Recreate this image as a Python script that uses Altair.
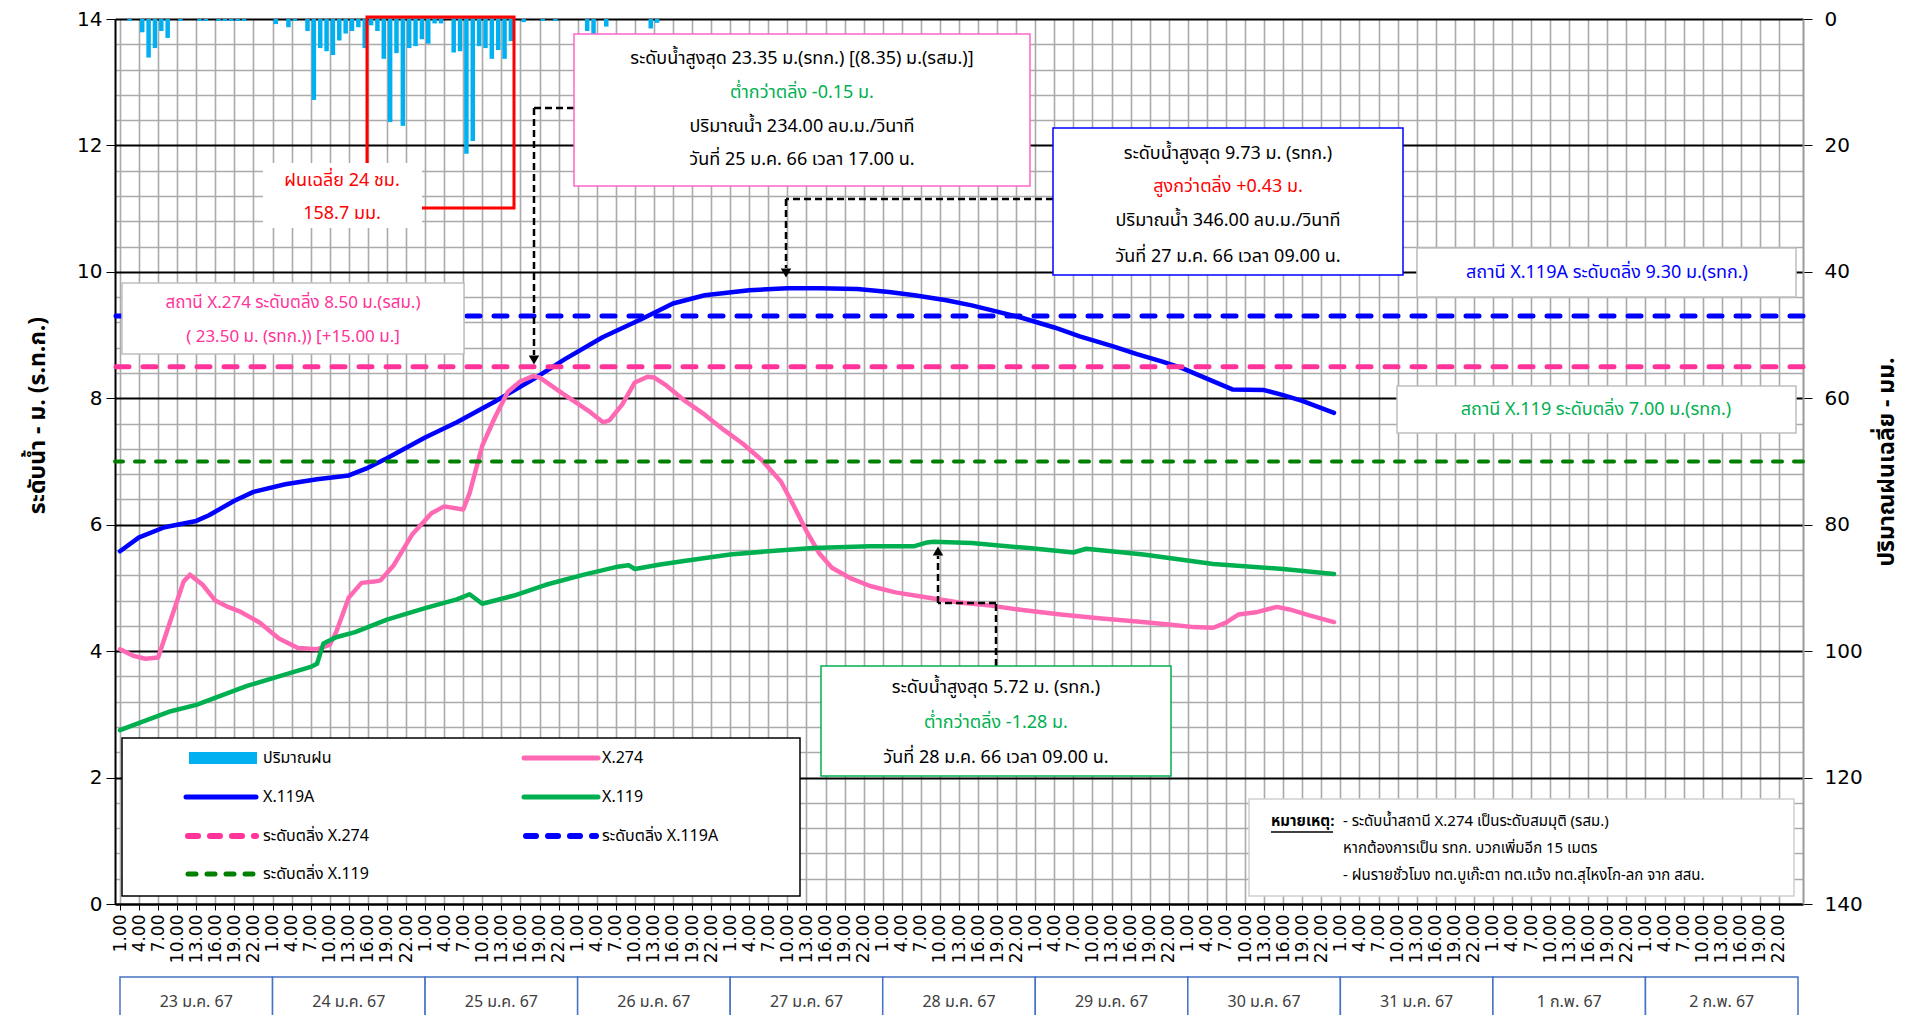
import altair as alt
import pandas as pd

# ---------------- data ----------------
days = ["23 ม.ค. 67", "24 ม.ค. 67", "25 ม.ค. 67", "26 ม.ค. 67", "27 ม.ค. 67", "28 ม.ค. 67",
        "29 ม.ค. 67", "30 ม.ค. 67", "31 ม.ค. 67", "1 ก.พ. 67", "2 ก.พ. 67"]

# hour index 0 = 23 ม.ค. 1.00
x119a_hour = [0, 3, 7, 12, 14, 18, 21, 26, 31, 36, 39, 42, 48, 53, 59, 65, 70, 76, 82, 87, 92, 99,
              105, 110, 116, 121, 125, 130, 134, 138, 142, 147, 151, 156, 160, 164, 167, 171, 175,
              180, 183, 186, 191]
x119a_level = [5.58, 5.80, 5.96, 6.06, 6.15, 6.38, 6.52, 6.64, 6.72, 6.78, 6.90, 7.05, 7.38, 7.62,
               7.95, 8.30, 8.62, 8.97, 9.25, 9.50, 9.63, 9.71, 9.74, 9.74, 9.73, 9.68, 9.63, 9.55,
               9.47, 9.37, 9.27, 9.12, 8.98, 8.83, 8.70, 8.58, 8.48, 8.31, 8.14, 8.13, 8.05, 7.96,
               7.77]

x274_hour = [0, 2, 4, 6, 8, 10, 11, 13, 15, 17, 19, 22, 25, 28, 31, 33, 34, 36, 38, 40, 41, 43, 46,
             49, 51, 54, 55, 57, 59, 61, 63, 65, 66, 70, 74, 76, 77, 79, 81, 83, 84, 86, 89, 92, 95,
             98, 101, 104, 106, 108, 110, 112, 115, 118, 122, 127, 132, 137, 142, 148, 154, 160,
             165, 169, 172, 174, 176, 179, 182, 184, 187, 191]
x274_level = [4.03, 3.93, 3.88, 3.90, 4.50, 5.10, 5.21, 5.05, 4.80, 4.70, 4.62, 4.45, 4.20, 4.05,
              4.03, 4.10, 4.30, 4.85, 5.08, 5.10, 5.12, 5.35, 5.85, 6.18, 6.29, 6.24, 6.50, 7.25,
              7.70, 8.10, 8.27, 8.35, 8.33, 8.05, 7.78, 7.62, 7.65, 7.90, 8.25, 8.34, 8.33, 8.20,
              7.95, 7.74, 7.50, 7.28, 7.02, 6.68, 6.30, 5.90, 5.55, 5.32, 5.15, 5.03, 4.93, 4.85,
              4.77, 4.72, 4.65, 4.58, 4.52, 4.47, 4.42, 4.38, 4.37, 4.45, 4.58, 4.62, 4.70, 4.66,
              4.57, 4.46]

x119_hour = [0, 4, 8, 12, 16, 20, 25, 30, 31, 32, 34, 37, 42, 48, 53, 55, 57, 62, 67, 73, 78, 80,
             81, 85, 89, 96, 102, 109, 118, 125, 127, 128, 134, 143, 150, 152, 161, 172, 183, 191]
x119_level = [2.75, 2.90, 3.05, 3.15, 3.30, 3.45, 3.60, 3.75, 3.80, 4.12, 4.22, 4.30, 4.50, 4.68,
              4.82, 4.90, 4.75, 4.88, 5.05, 5.21, 5.33, 5.36, 5.30, 5.37, 5.43, 5.53, 5.58, 5.63,
              5.66, 5.66, 5.72, 5.73, 5.71, 5.63, 5.56, 5.62, 5.53, 5.38, 5.30, 5.22]

rain_hour = [1, 3, 4, 5, 6, 7, 9, 12, 13, 15, 16, 17, 18, 19, 24, 26, 27, 29, 30, 31, 32, 33, 34, 35,
             36, 37, 38, 39, 40, 41, 42, 43, 44, 45, 46, 47, 48, 49, 50, 52, 53, 54, 55, 56, 57,
             58, 59, 60, 61, 63, 66, 68, 73, 74, 76, 83, 84]
rain_mm = [0.3, 2.1, 6.1, 4.6, 1.9, 3.0, 0.3, 0.3, 0.3, 0.3, 0.3, 0.3, 0.3, 0.3, 0.8, 1.3, 0.3, 1.9,
           12.8, 4.6, 5.1, 5.7, 3.4, 2.3, 1.9, 1.3, 4.6, 1.0, 1.9, 6.3, 16.3, 5.4, 16.9, 4.6, 4.3,
           3.2, 3.9, 0.7, 0.7, 5.3, 5.1, 21.3, 19.3, 4.3, 4.6, 6.3, 4.9, 6.3, 3.5, 0.5, 0.3, 0.3,
           1.9, 2.5, 1.2, 1.5, 0.6]

bank_station = ["X.119A", "X.274", "X.119"]
bank_level = [9.30, 8.50, 7.00]

# ---------------- layout ----------------
OX, OY = 115, 19          # page position of plot origin
W, H = 1688, 904 - OY
NH = 264
THAI = "Tahoma, 'Noto Sans Thai', 'Noto Sans Thai UI', Garuda, Loma, 'DejaVu Sans', sans-serif"
NUM = "Verdana, 'DejaVu Sans', sans-serif"

xs = alt.Scale(domain=[0, NH], nice=False, zero=False)
ys = alt.Scale(domain=[0, 14], nice=False, zero=False)
MAJOR = "datum.value % 2 === 0"
yvals = [round(k * 0.4, 1) for k in range(36)]

x_axis = alt.Axis(values=list(range(0, NH, 3)),
                  labelExpr="format((datum.value % 24) + 1, '.2f')",
                  labelAngle=270, labelFont=NUM, labelFontSize=17, labelColor="black",
                  labelPadding=4, labelOverlap=False, labelFlush=False,
                  tickSize=6, tickColor="black", domainColor="black", domainWidth=2,
                  grid=True, gridColor="#aaaaaa", gridWidth=1.6, title="")
y_axis = alt.Axis(values=yvals, orient="left",
                  labelExpr=f"{MAJOR} ? format(datum.value, 'd') : ''",
                  labelFont=NUM, labelFontSize=20, labelColor="black", labelOverlap=False,
                  labelPadding=4, grid=True,
                  gridColor={"condition": {"test": MAJOR, "value": "black"}, "value": "#aaaaaa"},
                  gridWidth={"condition": {"test": MAJOR, "value": 2}, "value": 1.6},
                  tickSize={"condition": {"test": MAJOR, "value": 9}, "value": 0},
                  tickColor="black", domainColor="black", domainWidth=2,
                  title="ระดับน้ำ - ม. (ร.ท.ก.)", titleFont=THAI, titleFontSize=23,
                  titleFontWeight="bold", titleColor="black", titlePadding=27, titleY=396)
r_axis = alt.Axis(orient="right", values=list(range(0, 141, 20)), grid=False,
                  tickSize=9, tickColor="black", domainColor="#9a9a9a", domainWidth=2,
                  labelFont=NUM, labelFontSize=20, labelColor="black", labelPadding=12,
                  title="ปริมาณฝนเฉลี่ย - มม.", titleFont=THAI, titleFontSize=23,
                  titleFontWeight="bold", titleColor="black", titlePadding=36, titleAngle=270)

ONE = pd.DataFrame({"k": [0]})


def P(x, y):
    return alt.value(x - OX), alt.value(y - OY)


def R(x1, y1, x2, y2, fill="white", stroke="#bfbfbf", sw=1.5, fo=1.0):
    a, b = P(x1, y1)
    c, d = P(x2, y2)
    return alt.Chart(ONE).mark_rect(fill=fill, fillOpacity=fo, stroke=stroke, strokeWidth=sw).encode(
        x=a, y=b, x2=c, y2=d)


def L(x1, y1, x2, y2, color="black", sw=2, dash=None, cap="butt"):
    a, b = P(x1, y1)
    c, d = P(x2, y2)
    kw = dict(color=color, strokeWidth=sw, strokeCap=cap)
    if dash:
        kw["strokeDash"] = dash
    return alt.Chart(ONE).mark_rule(**kw).encode(x=a, y=b, x2=c, y2=d)


def T(s, x, y, color="black", size=18, align="center", weight="normal", font=THAI):
    a, b = P(x, y)
    return alt.Chart(ONE).mark_text(text=s, align=align, baseline="middle", fontSize=size,
                                    color=color, fontWeight=weight, font=font).encode(x=a, y=b)


def TRI(x, y, shape="triangle-down", size=110):
    a, b = P(x, y)
    return alt.Chart(ONE).mark_point(shape=shape, filled=True, fill="black", size=size,
                                     strokeWidth=0, opacity=1).encode(x=a, y=b)


def XE(field):
    return alt.X(field, scale=xs, axis=x_axis)


def YE(field):
    return alt.Y(field, scale=ys, axis=y_axis)


# ---------------- rain bars (right axis) ----------------
rain_df = pd.DataFrame({"h": rain_hour, "mm": rain_mm})
rain = alt.Chart(rain_df).transform_calculate(xc="datum.h + 0.5").mark_bar(
    color="#00b0f0", size=4.5).encode(
    x=XE("xc:Q"),
    y=alt.Y("mm:Q", scale=alt.Scale(domain=[0, 140], reverse=True, nice=False), axis=r_axis))


# ---------------- level lines ----------------
def series(hours, levels, color):
    df = pd.DataFrame({"h": hours, "v": levels})
    return alt.Chart(df).mark_line(color=color, strokeWidth=4.5, strokeCap="round",
                                   strokeJoin="round").encode(x=XE("h:Q"), y=YE("v:Q"))


line_a = series(x119a_hour, x119a_level, "#0000ff")
line_p = series(x274_hour, x274_level, "#ff69b4")
line_g = series(x119_hour, x119_level, "#00b050")

bank_df = pd.DataFrame({"station": bank_station, "level": bank_level})


def bank(name, color, dash, width):
    return alt.Chart(bank_df).transform_filter(f"datum.station == '{name}'").mark_rule(
        color=color, strokeDash=dash, strokeWidth=width, strokeCap="round").encode(
        y=YE("level:Q"))


banks = [bank("X.274", "#ff3399", [13, 14], 5),
         bank("X.119A", "#0000ff", [13, 14], 5),
         bank("X.119", "#008000", [9, 12], 4)]

# ---------------- annotations ----------------
ann = []
# 24h rainfall box
ann.append(R(367, 17, 514, 208, fill="white", stroke="#ff0000", sw=3, fo=0))
ann.append(R(263, 163, 422, 228, stroke="white", sw=0))
ann.append(T("ฝนเฉลี่ย 24 ชม.", 342, 181, color="#ff0000", size=18))
ann.append(T("158.7 มม.", 342, 214, color="#ff0000", size=18))

# X.274 peak
ann.append(L(574, 108, 534, 108, dash=[7, 4], sw=2.5))
ann.append(L(534, 108, 534, 355, dash=[7, 4], sw=2.5))
ann.append(TRI(534, 360))
ann.append(R(574, 34, 1030, 186, stroke="#ff66cc", sw=1.5))
ann.append(T("ระดับน้ำสูงสุด 23.35 ม.(รทก.) [(8.35) ม.(รสม.)]", 802, 59))
ann.append(T("ต่ำกว่าตลิ่ง -0.15 ม.", 802, 93, color="#00b050"))
ann.append(T("ปริมาณน้ำ 234.00 ลบ.ม./วินาที", 802, 127))
ann.append(T("วันที่ 25 ม.ค. 66 เวลา 17.00 น.", 802, 160))

# X.119A peak
ann.append(L(1053, 199, 786, 199, dash=[7, 4], sw=2.5))
ann.append(L(786, 199, 786, 268, dash=[7, 4], sw=2.5))
ann.append(TRI(786, 273))
ann.append(R(1053, 128, 1403, 275, stroke="#0000ff", sw=1.5))
ann.append(T("ระดับน้ำสูงสุด 9.73 ม. (รทก.)", 1228, 154))
ann.append(T("สูงกว่าตลิ่ง  +0.43 ม.", 1228, 187, color="#ff0000"))
ann.append(T("ปริมาณน้ำ 346.00 ลบ.ม./วินาที", 1228, 221))
ann.append(T("วันที่ 27 ม.ค. 66 เวลา 09.00 น.", 1228, 257))

# X.119 peak
ann.append(L(996, 666, 996, 603, dash=[7, 4], sw=2.5))
ann.append(L(996, 603, 938, 603, dash=[7, 4], sw=2.5))
ann.append(L(938, 603, 938, 556, dash=[7, 4], sw=2.5))
ann.append(TRI(938, 551, shape="triangle-up"))
ann.append(R(821, 666, 1171, 776, stroke="#00b050", sw=1.5))
ann.append(T("ระดับน้ำสูงสุด 5.72 ม. (รทก.)", 996, 688))
ann.append(T("ต่ำกว่าตลิ่ง -1.28 ม.", 996, 723, color="#00b050"))
ann.append(T("วันที่ 28 ม.ค. 66 เวลา 09.00 น.", 996, 758))

# station bank labels
ann.append(R(122, 283, 464, 354))
ann.append(T("สถานี X.274 ระดับตลิ่ง  8.50 ม.(รสม.)", 293, 303, color="#ff3399", size=17))
ann.append(T("( 23.50 ม. (รทก.)) [+15.00 ม.]", 293, 337, color="#ff3399", size=17))
ann.append(R(1417, 248, 1796, 297))
ann.append(T("สถานี X.119A ระดับตลิ่ง 9.30 ม.(รทก.)", 1607, 273, color="#0000ff", size=18))
ann.append(R(1397, 386, 1796, 433))
ann.append(T("สถานี X.119 ระดับตลิ่ง 7.00 ม.(รทก.)", 1596, 410, color="#00b050", size=18))

# legend
leg = [R(122, 738, 800, 896, stroke="black", sw=1.5)]
leg.append(R(189, 752, 257, 764, fill="#00b0f0", stroke="#00b0f0", sw=0))
leg.append(T("ปริมาณฝน", 263, 758, size=16, align="left"))
leg.append(L(524, 758, 598, 758, color="#ff69b4", sw=5, cap="round"))
leg.append(T("X.274", 602, 758, size=16, align="left"))
leg.append(L(186, 797, 256, 797, color="#0000ff", sw=5, cap="round"))
leg.append(T("X.119A", 263, 797, size=16, align="left"))
leg.append(L(524, 797, 598, 797, color="#00b050", sw=5, cap="round"))
leg.append(T("X.119", 602, 797, size=16, align="left"))
leg.append(L(188, 836, 256, 836, color="#ff3399", sw=6, dash=[10, 12], cap="round"))
leg.append(T("ระดับตลิ่ง X.274", 263, 836, size=16, align="left"))
leg.append(L(526, 836, 596, 836, color="#0000ff", sw=6, dash=[10, 12], cap="round"))
leg.append(T("ระดับตลิ่ง X.119A", 602, 836, size=16, align="left"))
leg.append(L(188, 874, 256, 874, color="#008000", sw=5, dash=[8, 11], cap="round"))
leg.append(T("ระดับตลิ่ง X.119", 263, 874, size=16, align="left"))

# note box
note = [R(1249, 799, 1794, 896, stroke="#d0d0d0", sw=1.5)]
note.append(T("หมายเหตุ:", 1271, 821, size=15, align="left", weight="bold"))
note.append(L(1271, 832, 1333, 832, sw=1.5))
note.append(T("- ระดับน้ำสถานี X.274 เป็นระดับสมมุติ (รสม.)", 1343, 821, size=15, align="left"))
note.append(T("หากต้องการเป็น รทก. บวกเพิ่มอีก 15 เมตร", 1343, 848, size=15, align="left"))
note.append(T("- ฝนรายชั่วโมง ทต.บูเก๊ะตา ทต.แว้ง ทต.สุไหงโก-ลก จาก สสน.", 1343, 875, size=15,
              align="left"))

# day boxes under the axis
day_df = pd.DataFrame({"day": days})
dbase = alt.Chart(day_df).transform_window(k="row_number()").transform_calculate(
    d0="(datum.k - 1) * 24", d1="datum.k * 24", dm="(datum.k - 1) * 24 + 12")
dbox = dbase.mark_rect(fill="white", stroke="#4472c4", strokeWidth=1.5).encode(
    x=XE("d0:Q"), x2="d1:Q",
    y=alt.value(977 - OY), y2=alt.value(1045 - OY))
dlab = dbase.mark_text(font=THAI, fontSize=16, color="#404040", baseline="middle").encode(
    x=XE("dm:Q"), y=alt.value(1002 - OY), text="day:N")

main = alt.layer(line_a, line_p, line_g, *banks, *ann, *leg, *note, dbox, dlab)

chart = alt.layer(rain, main).resolve_scale(y="independent").properties(
    width=W, height=H,
    autosize=alt.AutoSizeParams(type="none"),
    padding={"left": OX - 8, "top": OY - 8, "right": 105, "bottom": 1015 - 904},
    background="white",
).configure_view(stroke=None)

chart.save("out.html", embed_options={"renderer": "svg", "actions": False})
